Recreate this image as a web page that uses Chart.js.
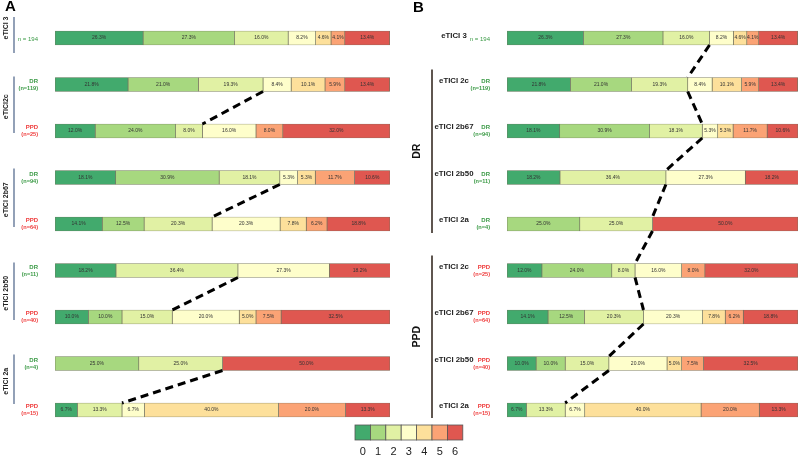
<!DOCTYPE html>
<html>
<head>
<meta charset="utf-8">
<script src="https://cdn.jsdelivr.net/npm/chart.js@4/dist/chart.umd.min.js"></script>
<style>
  body { margin: 0; background: #fff; }
  #wrap { position: relative; width: 800px; height: 459px; }
  canvas { position: absolute; left: 0; top: 0; }
</style>
</head>
<body>
<div id="wrap">
  <canvas id="panelA" width="800" height="459"></canvas>
  <canvas id="panelB" width="800" height="459"></canvas>
</div>
<script>
// mRS score categories
const scores = ['0', '1', '2', '3', '4', '5', '6'];

// percentage per score, one array per group
const eTICI3  = [26.3, 27.3, 16.0, 8.2, 4.6, 4.1, 13.4];
const dr2c    = [21.8, 21.0, 19.3, 8.4, 10.1, 5.9, 13.4];
const ppd2c   = [12.0, 24.0, 8.0, 16.0, 0, 8.0, 32.0];
const dr2b67  = [18.1, 30.9, 18.1, 5.3, 5.3, 11.7, 10.6];
const ppd2b67 = [14.1, 12.5, 20.3, 20.3, 7.8, 6.2, 18.8];
const dr2b50  = [18.2, 0, 36.4, 27.3, 0, 0, 18.2];
const ppd2b50 = [10.0, 10.0, 15.0, 20.0, 5.0, 7.5, 32.5];
const dr2a    = [0, 25.0, 25.0, 0, 0, 0, 50.0];
const ppd2a   = [6.7, 0, 13.3, 6.7, 40.0, 20.0, 13.3];

// panel A: grouped by reperfusion grade
const rowsA   = [eTICI3, dr2c, ppd2c, dr2b67, ppd2b67, dr2b50, ppd2b50, dr2a, ppd2a];
const groupsA = ['', 'DR', 'PPD', 'DR', 'PPD', 'DR', 'PPD', 'DR', 'PPD'];
const nA      = [194, 119, 25, 94, 64, 11, 40, 4, 15];
const gradesA = ['eTICI 3', 'eTICI2c', 'eTICI 2b67', 'eTICI 2b50', 'eTICI 2a'];

// panel B: grouped by DR / PPD
const rowsB   = [eTICI3, dr2c, dr2b67, dr2b50, dr2a, ppd2c, ppd2b67, ppd2b50, ppd2a];
const groupsB = ['', 'DR', 'DR', 'DR', 'DR', 'PPD', 'PPD', 'PPD', 'PPD'];
const nB      = [194, 119, 94, 11, 4, 25, 64, 40, 15];
const gradesB = ['eTICI 3', 'eTICI 2c', 'eTICI 2b67', 'eTICI 2b50', 'eTICI 2a',
                 'eTICI 2c', 'eTICI 2b67', 'eTICI 2b50', 'eTICI 2a'];

const colors = ['#42aa6d', '#a7d87f', '#e1f1a4', '#fefecb', '#fde09b', '#fba375', '#df5750'];
const green = '#3a9a45';
const red = '#ef3b3b';
const FONT = '"Liberation Sans", Arial, sans-serif';

function txt(ctx, s, x, y, font, color, align) {
  ctx.font = font;
  ctx.fillStyle = color;
  ctx.textAlign = align || 'center';
  ctx.textBaseline = 'middle';
  ctx.fillText(s, x, y);
}

function dashed(ctx, chart, pairs) {
  const meta = chart.getDatasetMeta(2); // end of score 0-2
  ctx.save();
  ctx.strokeStyle = '#000';
  ctx.lineWidth = 3;
  ctx.setLineDash([8, 5]);
  pairs.forEach(([a, b]) => {
    const ea = meta.data[a], eb = meta.data[b];
    ctx.beginPath();
    ctx.moveTo(ea.x, ea.y + ea.height / 2);
    ctx.lineTo(eb.x, eb.y - eb.height / 2);
    ctx.stroke();
  });
  ctx.restore();
}

const barText = {
  id: 'barText',
  afterDatasetsDraw(chart) {
    const ctx = chart.ctx;
    chart.data.datasets.forEach((ds, i) => {
      chart.getDatasetMeta(i).data.forEach((el, j) => {
        const v = ds.data[j];
        if (!v) return;
        const p = el.getCenterPoint();
        txt(ctx, v.toFixed(1) + '%', p.x, p.y, '5px ' + FONT, '#333');
      });
    });
  }
};

function smallLabel(ctx, grp, n, x, y) {
  if (!grp) {
    txt(ctx, 'n = ' + n, x, y + 1, '6px ' + FONT, green, 'right');
    return;
  }
  const c = grp === 'DR' ? green : red;
  txt(ctx, grp, x, y - 3.5, 'bold 6px ' + FONT, c, 'right');
  txt(ctx, '(n=' + n + ')', x, y + 3.5, 'bold 5.6px ' + FONT, c, 'right');
}

const panelADecor = {
  id: 'panelADecor',
  afterDraw(chart) {
    const ctx = chart.ctx;
    const ys = chart.getDatasetMeta(0).data.map(e => e.y);
    dashed(ctx, chart, [[1, 2], [3, 4], [5, 6], [7, 8]]);

    txt(ctx, 'A', 5, 7, 'bold 15px ' + FONT, '#000', 'left');

    // grade brackets
    const spans = [[ys[0] - 21, ys[0] + 15], [ys[1] - 8, ys[2] + 2], [ys[3] - 9, ys[4] + 3],
                   [ys[5] - 8, ys[6] + 3], [ys[7] - 9, ys[8] - 6]];
    spans.forEach(([t, b], k) => {
      ctx.strokeStyle = '#4a6287';
      ctx.lineWidth = 1.2;
      ctx.beginPath();
      ctx.moveTo(14, t);
      ctx.lineTo(14, b);
      ctx.stroke();
      ctx.save();
      ctx.translate(6, k === 0 ? t + 11 : (t + b) / 2 + 2);
      ctx.rotate(-Math.PI / 2);
      txt(ctx, gradesA[k], 0, 0, 'bold 7px ' + FONT, '#222');
      ctx.restore();
    });
    ys.forEach((y, j) => smallLabel(ctx, groupsA[j], nA[j], 38, y));

    // colour key
    const bw = 15.4, bx = 355, by = 425;
    scores.forEach((s, i) => {
      ctx.fillStyle = colors[i];
      ctx.fillRect(bx + i * bw, by, bw, 15);
      ctx.strokeStyle = '#555';
      ctx.lineWidth = 0.8;
      ctx.strokeRect(bx + i * bw, by, bw, 15);
      txt(ctx, s, bx + i * bw + bw / 2, 452, '11px ' + FONT, '#222');
    });
  }
};

const panelBDecor = {
  id: 'panelBDecor',
  afterDraw(chart) {
    const ctx = chart.ctx;
    const ys = chart.getDatasetMeta(0).data.map(e => e.y);
    dashed(ctx, chart, [[0, 1], [1, 2], [2, 3], [3, 4], [4, 5], [5, 6], [6, 7], [7, 8]]);

    txt(ctx, 'B', 413, 8, 'bold 15px ' + FONT, '#000', 'left');

    ys.forEach((y, j) => {
      txt(ctx, gradesB[j], 454, j === 0 ? y - 2 : y - 4, 'bold 7.8px ' + FONT, '#222');
      smallLabel(ctx, groupsB[j], nB[j], 490, y);
    });

    const spans = [['DR', ys[1] - 15, ys[4] + 9], ['PPD', ys[5] - 15, ys[8] + 8]];
    spans.forEach(([g, t, b]) => {
      ctx.strokeStyle = '#2a1e16';
      ctx.lineWidth = 1.5;
      ctx.beginPath();
      ctx.moveTo(432, t);
      ctx.lineTo(432, b);
      ctx.stroke();
      ctx.save();
      ctx.translate(417, (t + b) / 2);
      ctx.rotate(-Math.PI / 2);
      txt(ctx, g, 0, 0, 'bold 10.5px ' + FONT, '#111');
      ctx.restore();
    });
  }
};

function makeChart(id, rows, padLeft, padRight, decor) {
  return new Chart(document.getElementById(id), {
    type: 'bar',
    data: {
      labels: rows.map((r, j) => 'row' + j),
      datasets: scores.map((s, i) => ({
        label: s,
        data: rows.map(r => r[i]),
        backgroundColor: colors[i],
        borderColor: '#74745f',
        borderWidth: 0.7,
        borderSkipped: false,
        barThickness: 14
      }))
    },
    options: {
      indexAxis: 'y',
      responsive: false,
      animation: false,
      layout: { padding: { left: padLeft, right: padRight, top: 14.75, bottom: 25.75 } },
      scales: {
        x: { stacked: true, min: 0, max: 100, display: false },
        y: { stacked: true, display: false }
      },
      plugins: { legend: { display: false }, tooltip: { enabled: false } }
    },
    plugins: [barText, decor]
  });
}

makeChart('panelA', rowsA, 55, 410, panelADecor);
makeChart('panelB', rowsB, 507, 2, panelBDecor);
</script>
</body>
</html>
